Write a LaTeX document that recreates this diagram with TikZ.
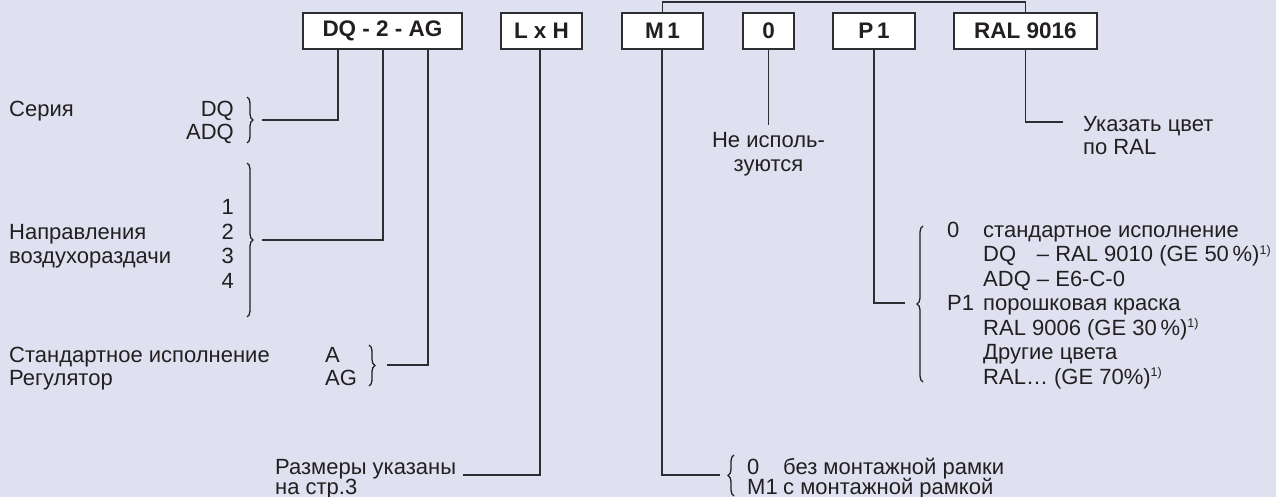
\documentclass[tikz,border=0pt]{standalone}
\usepackage{fontspec}
\setmainfont{Liberation Sans}
\usetikzlibrary{decorations.pathreplacing}
\definecolor{bgc}{RGB}{223,225,241}
\definecolor{ink}{RGB}{35,31,32}
\definecolor{lin}{RGB}{45,45,50}
\newcommand{\fnm}{{\fontsize{12.5}{12.5}\selectfont\raisebox{7.5pt}{1)}}}
\begin{document}
\begin{tikzpicture}[x=1pt,y=-1pt,
  box/.style={draw=lin, line width=1.2pt, fill=white, minimum height=36pt, inner sep=0pt, font=\fontsize{22.5}{24}\selectfont\bfseries, text=ink},
  conn/.style={draw=lin, line width=1.1pt},
  lbl/.style={inner sep=0pt, text height=15.5pt, text depth=0pt, font=\fontsize{22}{24}\selectfont, text=ink},
  brc/.style={draw=ink, line width=1.3pt, decorate, decoration={brace, amplitude=6pt}}]
\fill[bgc] (0,0) rectangle (1276,497);
\useasboundingbox (0,0) rectangle (1276,497);
% boxes
\node[box, minimum width=159pt] (dq) at (382.5,31) {DQ - 2 - AG};
\node[box, minimum width=81pt] (lxh) at (541.5,31) {L x H};
\node[box, minimum width=81pt] (m1) at (662.5,31) {M\,1};
\node[box, minimum width=51pt] (zero) at (768.5,31) {0};
\node[box, minimum width=82pt] (p1) at (874,31) {P\,1};
\node[box, minimum width=143pt] (ral) at (1025.5,31) {RAL 9016};
% top connector
\coordinate (top) at (840,2);
\draw[conn] (m1.north) |- (top) -| (ral.north);
% Serie
\node[lbl, anchor=west] (ser) at (9,109) {Серия};
\node[lbl, anchor=east] (serdq) at (234,109) {DQ};
\node[lbl, anchor=east] (seradq) at (234,132) {ADQ};
\draw[brc] (247,97) -- (247,143);
\coordinate (serA) at (262,120);
\coordinate (j1) at (338,120);
\draw[conn] (dq.south -| j1) -- (j1) -- (serA);
% directions
\node[lbl, anchor=east] (n1) at (234,207) {1};
\node[lbl, anchor=east] (n2) at (234,231.5) {2};
\node[lbl, anchor=east] (n3) at (234,256) {3};
\node[lbl, anchor=east] (n4) at (234,280.5) {4};
\node[lbl, anchor=west] (napr) at (9,231.5) {Направления};
\node[lbl, anchor=west] (vozd) at (9,256) {воздухораздачи};
\draw[brc] (247,163) -- (247,317);
\coordinate (dirA) at (262,240);
\coordinate (j2) at (383,240);
\draw[conn] (dq.south -| j2) -- (j2) -- (dirA);
% version
\node[lbl, anchor=west] (std) at (9,355) {Стандартное исполнение};
\node[lbl, anchor=west] (reg) at (9,378) {Регулятор};
\node[lbl, anchor=west] (va) at (325,355) {A};
\node[lbl, anchor=west] (vag) at (325,378) {AG};
\draw[brc] (369,345) -- (369,386);
\coordinate (verA) at (387,365);
\coordinate (j3) at (428,365);
\draw[conn] (dq.south -| j3) -- (j3) -- (verA);
% size
\node[lbl, anchor=west] (raz1) at (275,467) {Размеры указаны};
\node[lbl, anchor=west] (raz2) at (275,487) {на стр.3};
\coordinate (sizA) at (463,475);
\coordinate (j4) at (540,475);
\draw[conn] (lxh.south -| j4) -- (j4) -- (sizA);
% mounting frame
\coordinate (j5) at (662,475);
\coordinate (frA) at (720,475);
\draw[conn] (m1.south -| j5) -- (j5) -- (frA);
\draw[brc] (734,496) -- (734,455);
\node[lbl, anchor=west] (f0) at (747,467) {0};
\node[lbl, anchor=west] (f0t) at (783,467) {без монтажной рамки};
\node[lbl, anchor=west] (fm) at (747,487) {M1};
\node[lbl, anchor=west] (fmt) at (783,487) {с монтажной рамкой};
% not used
\coordinate (nu) at (768.5,125);
\draw[conn] (zero.south) -- (nu);
\node[lbl] (nu1) at (768.5,140) {Не исполь-};
\node[lbl] (nu2) at (768.5,164) {зуются};
% P1
\coordinate (j6) at (874,303);
\coordinate (pA) at (905,303);
\draw[conn] (p1.south) -- (j6) -- (pA);
\draw[brc] (923,382) -- (923,226);
\node[lbl, anchor=west] (p0) at (947,229.5) {0};
\node[lbl, anchor=west] (p0a) at (983,229.5) {стандартное исполнение};
\node[lbl, anchor=west] (p0b) at (983,254) {DQ\hphantom{A} – RAL 9010 (GE 50\,\%)\fnm};
\node[lbl, anchor=west] (p0c) at (983,278.5) {ADQ – E6-C-0};
\node[lbl, anchor=west] (pp) at (947,303) {P1};
\node[lbl, anchor=west] (ppa) at (983,303) {порошковая краска};
\node[lbl, anchor=west] (ppb) at (983,327.5) {RAL 9006 (GE 30\,\%)\fnm};
\node[lbl, anchor=west] (ppc) at (983,352) {Другие цвета};
\node[lbl, anchor=west] (ppd) at (983,376.5) {RAL… (GE 70\%)\fnm};
% RAL
\coordinate (j7) at (1025.5,122);
\coordinate (rA) at (1063,122);
\draw[conn] (ral.south) -- (j7) -- (rA);
\node[lbl, anchor=west] (r1) at (1083,124) {Указать цвет};
\node[lbl, anchor=west] (r2) at (1083,147) {по RAL};
\end{tikzpicture}
\end{document}
